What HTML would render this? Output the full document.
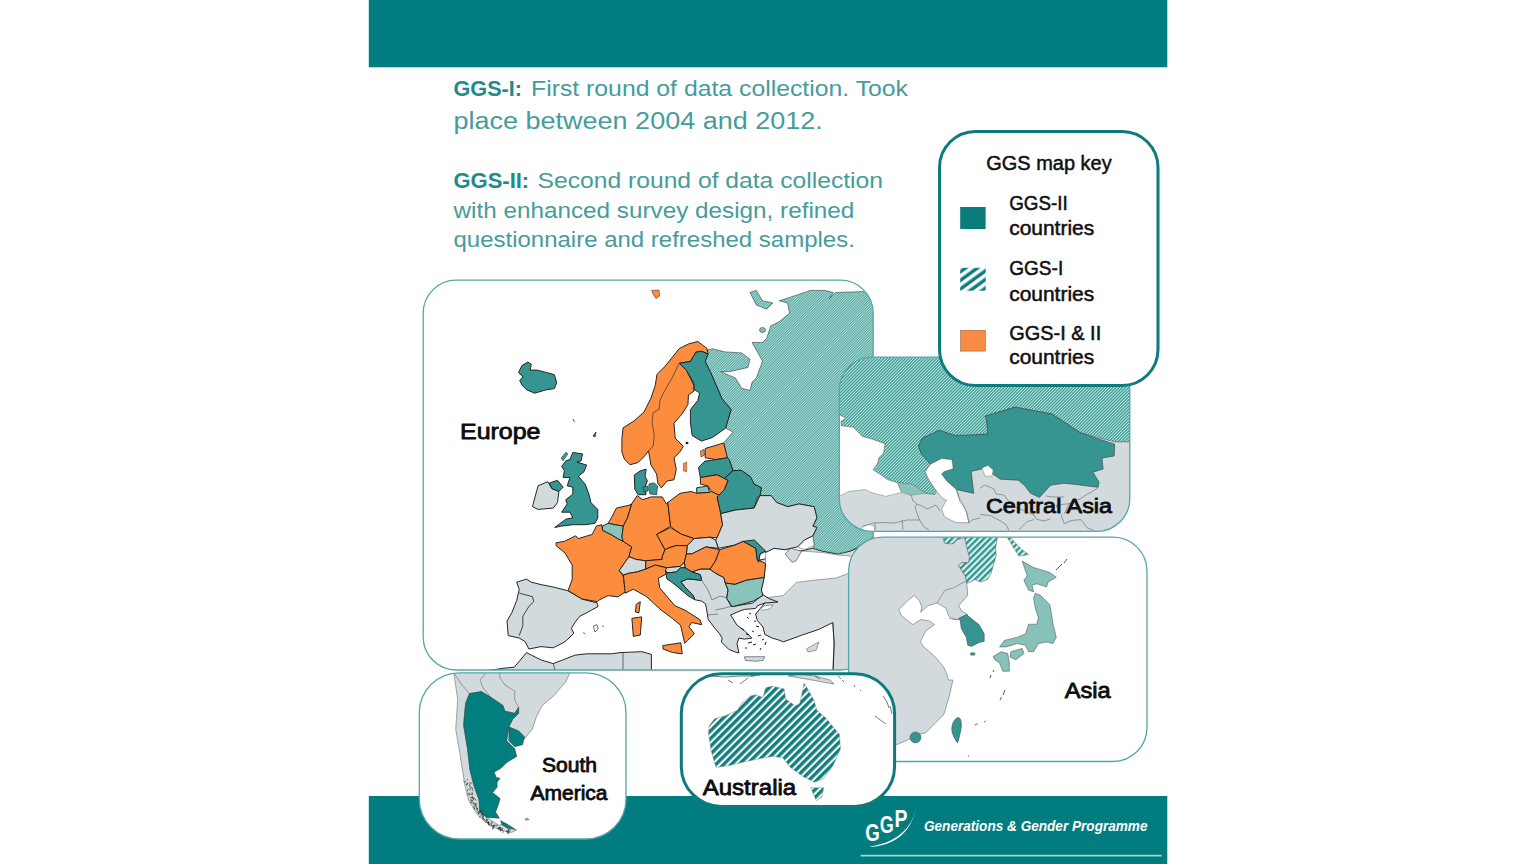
<!DOCTYPE html>
<html><head><meta charset="utf-8"><title>GGS map</title>
<style>html,body{margin:0;padding:0;background:#fff;overflow:hidden} svg{display:block}</style>
</head><body>
<svg width="1536" height="864" viewBox="0 0 1536 864">

<defs>
  <pattern id="hatchCA" patternUnits="userSpaceOnUse" width="2.2" height="2.2" patternTransform="rotate(45)">
    <rect width="2.2" height="2.2" fill="#d2ece8"/><rect width="1.25" height="2.2" fill="#2f9890"/>
  </pattern>
  <pattern id="hatchEU" patternUnits="userSpaceOnUse" width="1.8" height="1.8" patternTransform="rotate(45)">
    <rect width="1.8" height="1.8" fill="#b4dcd7"/><rect width="0.9" height="1.8" fill="#4ea59f"/>
  </pattern>
  <pattern id="hatchAS" patternUnits="userSpaceOnUse" width="4.5" height="4.5" patternTransform="rotate(45)">
    <rect width="4.5" height="4.5" fill="#d9efeb"/><rect width="2.25" height="4.5" fill="#2a9590"/>
  </pattern>
  <pattern id="hatchAU" patternUnits="userSpaceOnUse" width="5.5" height="5.5" patternTransform="rotate(45)">
    <rect width="5.5" height="5.5" fill="#ffffff"/><rect width="3.4" height="5.5" fill="#117f80"/>
  </pattern>
  <pattern id="hatchLG" patternUnits="userSpaceOnUse" width="7" height="7" patternTransform="translate(960,268) rotate(54)">
    <rect width="7" height="7" fill="#ffffff"/><rect x="1.5" width="3.4" height="7" fill="#0a7b7c"/>
  </pattern>
  <clipPath id="clip_eu"><path d="M456.2,280.2 H840.2 A33,33 0 0 1 873.2,313.2 V637.0 A33,33 0 0 1 840.2,670.0 H456.2 A33,33 0 0 1 423.2,637.0 V313.2 A33,33 0 0 1 456.2,280.2 Z"/></clipPath>
  <clipPath id="clip_ca"><path d="M872.3,357.2 H1096.8 A33,33 0 0 1 1129.8,390.2 V498.4 A33,33 0 0 1 1096.8,531.4 H872.3 A33,33 0 0 1 839.3,498.4 V390.2 A33,33 0 0 1 872.3,357.2 Z"/></clipPath>
  <clipPath id="clip_as"><path d="M882.6,537.2 H1113.0 A34,34 0 0 1 1147.0,571.2 V727.5 A34,34 0 0 1 1113.0,761.5 H882.6 A34,34 0 0 1 848.6,727.5 V571.2 A34,34 0 0 1 882.6,537.2 Z"/></clipPath>
  <clipPath id="clip_lg"><path d="M975.5,131.5 H1122.0 A36,36 0 0 1 1158.0,167.5 V349.5 A36,36 0 0 1 1122.0,385.5 H975.5 A36,36 0 0 1 939.5,349.5 V167.5 A36,36 0 0 1 975.5,131.5 Z"/></clipPath>
  <clipPath id="clip_sa"><path d="M459.3,672.8 H586.0 A40,40 0 0 1 626.0,712.8 V799.0 A40,40 0 0 1 586.0,839.0 H459.3 A40,40 0 0 1 419.3,799.0 V712.8 A40,40 0 0 1 459.3,672.8 Z"/></clipPath>
  <clipPath id="clip_au"><path d="M721.3,673.8 H854.5999999999999 A40,40 0 0 1 894.5999999999999,713.8 V766.4 A40,40 0 0 1 854.5999999999999,806.4 H721.3 A40,40 0 0 1 681.3,766.4 V713.8 A40,40 0 0 1 721.3,673.8 Z"/></clipPath>
</defs>
<rect width="1536" height="864" fill="#fff"/>
<rect x="368.8" y="0" width="798.5" height="67.3" fill="#017d7f"/>
<rect x="368.8" y="796" width="798.5" height="68" fill="#017d7f"/>
<text x="453.5" y="96" font-family="Liberation Sans" font-size="21.5" font-weight="bold" font-style="normal" fill="#218b8b" textLength="68.5" lengthAdjust="spacingAndGlyphs" >GGS-I:</text>
<text x="531" y="96" font-family="Liberation Sans" font-size="21.5" font-weight="normal" font-style="normal" fill="#469c9c" textLength="377" lengthAdjust="spacingAndGlyphs" >First round of data collection. Took</text>
<text x="453.5" y="128.8" font-family="Liberation Sans" font-size="23" font-weight="normal" font-style="normal" fill="#469c9c" textLength="369.3" lengthAdjust="spacingAndGlyphs" >place between 2004 and 2012.</text>
<text x="453.5" y="188" font-family="Liberation Sans" font-size="21.5" font-weight="bold" font-style="normal" fill="#218b8b" textLength="75.7" lengthAdjust="spacingAndGlyphs" >GGS-II:</text>
<text x="537.5" y="188" font-family="Liberation Sans" font-size="21.5" font-weight="normal" font-style="normal" fill="#469c9c" textLength="345.5" lengthAdjust="spacingAndGlyphs" >Second round of data collection</text>
<text x="453.5" y="218" font-family="Liberation Sans" font-size="21.5" font-weight="normal" font-style="normal" fill="#469c9c" textLength="400.8" lengthAdjust="spacingAndGlyphs" >with enhanced survey design, refined</text>
<text x="453.5" y="247.3" font-family="Liberation Sans" font-size="21.5" font-weight="normal" font-style="normal" fill="#469c9c" textLength="401.3" lengthAdjust="spacingAndGlyphs" >questionnaire and refreshed samples.</text>
<path d="M456.2,280.2 H840.2 A33,33 0 0 1 873.2,313.2 V637.0 A33,33 0 0 1 840.2,670.0 H456.2 A33,33 0 0 1 423.2,637.0 V313.2 A33,33 0 0 1 456.2,280.2 Z" fill="#fff"/>
<g clip-path="url(#clip_eu)">
<path d="M760.0,560.0 L812.8,548.3 L822.5,551.1 L837.8,553.9 L850.3,551.1 L900.0,530.0 L900.0,680.0 L832.8,680.0 L834.2,643.3 L832.8,622.5 L818.9,629.4 L802.2,635.0 L783.3,641.9 L778.7,640.0 L772.2,638.1 L764.8,634.4 L763.0,627.0 L757.4,620.6 L755.6,614.1 L760.2,608.5 L764.8,603.0 L768.3,598.3 L762.8,595.6 Z" fill="#d2dadd" stroke="#1c1c1c" stroke-width="0.95" stroke-linejoin="round" />
<path d="M480.0,672.0 L502.2,668.4 L514.3,667.2 L526.5,652.6 L531.3,655.1 L541.0,659.9 L553.2,663.6 L562.9,659.9 L575.1,655.1 L587.2,653.8 L611.5,653.8 L620.0,652.6 L641.7,651.7 L651.4,654.4 L651.4,672.0 Z" fill="#d2dadd" stroke="#1c1c1c" stroke-width="0.95" stroke-linejoin="round" />
<path d="M553.2,663.6 L555.6,672 M623,652.8 L623,672" fill="none" stroke="#333" stroke-width="0.7"/>
<path d="M704.2,350.8 L712.5,348.8 L725.0,351.9 L741.7,352.9 L750.0,359.2 L747.9,367.5 L729.2,371.7 L720.8,371.7 L735.4,377.9 L741.7,388.3 L750.0,390.4 L752.1,382.1 L756.3,377.9 L762.5,361.3 L752.1,342.5 L762.5,342.5 L766.7,338.3 L770.8,325.8 L779.2,321.7 L789.6,313.3 L787.5,302.9 L779.2,300.8 L791.7,296.7 L810.4,290.4 L825.0,290.4 L833.3,292.5 L829.2,298.8 L835.4,292.5 L900.0,290.4 L900.0,520.0 L871.1,538.6 L850.3,551.1 L837.8,553.9 L822.5,551.1 L812.8,548.3 L814.2,545.6 L812.8,535.8 L816.9,527.5 L812.8,526.1 L816.9,517.8 L814.2,506.7 L798.9,503.9 L787.8,506.7 L776.7,502.5 L771.1,495.6 L760.0,495.6 L761.5,487.8 L754.1,484.1 L750.4,476.7 L741.1,470.2 L733.0,470.7 L729.3,459.6 L727.4,457.8 L723.7,443.0 L733.0,432.0 L725.6,428.1 L731.1,409.6 L721.9,398.5 L716.3,385.6 L710.7,372.6 L705.2,361.5 L708.0,354.0 Z" fill="url(#hatchEU)" stroke="#1c1c1c" stroke-width="0.5" stroke-linejoin="round" />
<path d="M750.0,292.5 L756.3,290.4 L762.5,300.8 L772.9,302.9 L766.7,309.2 L756.3,305.0 Z" fill="url(#hatchEU)" stroke="#1c1c1c" stroke-width="0.5" stroke-linejoin="round" />
<ellipse cx="762.5" cy="330" rx="3" ry="2.5" fill="#82c1bb" stroke="#222" stroke-width="0.5"/>
<path d="M765.6,552.5 L773.9,548.3 L785.0,549.7 L801.7,551.1 L822.5,552.5 L837.8,555.0 L850.0,556.0 L860.0,558.0 L860.0,572.0 L847.5,573.6 L836.0,578.0 L814.0,580.2 L796.4,582.4 L783.2,595.6 L765.6,597.8 L762.8,595.6 L761.4,590.0 L764.2,577.5 L765.6,563.6 Z" fill="#fff" stroke="#555" stroke-width="0.5" stroke-linejoin="round" />
<path d="M785.0,553.9 L790.6,548.3 L801.7,551.1 L796.1,560.8 L792.0,562.2 Z" fill="#d2dadd" stroke="#1c1c1c" stroke-width="0.5" stroke-linejoin="round" />
<path d="M797.5,546.9 L804.4,540.0 L812.8,535.8 L814.2,545.6 L804.4,549.7 Z" fill="#fff" stroke="#444" stroke-width="0.5" stroke-linejoin="round" />
<path d="M760.2,608.5 L764.8,605.7 L773.1,604.8 L770.4,608.5 L763.0,610.4 Z" fill="#fff" stroke="#444" stroke-width="0.5" stroke-linejoin="round" />
<path d="M806.4,648.9 L818.9,641.9 L816.1,650.3 L808.0,652.0 Z" fill="#d2dadd" stroke="#1c1c1c" stroke-width="0.4" stroke-linejoin="round" />
<path d="M744.4,656.7 L764.8,656.7 L763.0,660.4 L755.6,661.3 L745.4,660.4 Z" fill="#d2dadd" stroke="#1c1c1c" stroke-width="0.5" stroke-linejoin="round" />
<path d="M832.8,622.5 L834,643 L832.8,670" fill="none" stroke="#222" stroke-width="0.5"/>
<path d="M518.5,372.4 L522.0,365.5 L527.8,362.0 L531.3,364.3 L530.1,370.1 L537.0,370.1 L546.3,372.4 L554.4,374.7 L556.7,382.8 L554.4,388.6 L546.3,389.8 L534.7,393.2 L526.6,389.8 L522.0,385.1 L519.7,380.5 L523.1,377.0 Z" fill="#379591" stroke="#1c1c1c" stroke-width="0.95" stroke-linejoin="round" />
<path d="M573,419 l1.5,3 M593,436 l3,-4 l-1,5 Z" fill="#379591" stroke="#222" stroke-width="0.8"/>
<path d="M651.6,290.4 L659.0,290.0 L659.7,296.0 L656.0,298.5 L653.0,294.0 Z" fill="#fd8d3e" stroke="#1c1c1c" stroke-width="0.5" stroke-linejoin="round" />
<path d="M533.9,501.1 L538.1,485.8 L547.8,481.7 L551.9,488.6 L558.9,491.4 L557.5,502.5 L553.3,508.1 L538.1,509.4 L532.5,506.7 Z" fill="#d2dadd" stroke="#1c1c1c" stroke-width="0.95" stroke-linejoin="round" />
<path d="M549.2,483.1 L557.5,480.3 L563.1,487.2 L558.9,491.4 L551.9,488.6 Z" fill="#379591" stroke="#1c1c1c" stroke-width="0.95" stroke-linejoin="round" />
<path d="M572.8,452.5 L582.5,453.9 L581.1,460.8 L576.9,462.2 L586.7,465.0 L583.9,471.9 L578.3,476.1 L585.3,484.4 L589.4,495.6 L590.8,502.5 L597.8,509.4 L597.8,517.8 L595.0,523.3 L585.3,524.7 L572.8,524.7 L561.7,526.1 L554.7,527.5 L565.8,519.2 L572.8,517.8 L570.0,512.2 L561.7,512.2 L567.2,503.9 L565.8,499.7 L572.8,494.2 L572.8,487.2 L567.2,485.8 L570.0,477.5 L563.1,477.5 L564.4,470.6 L561.7,466.4 L565.8,460.8 L570.0,459.4 Z" fill="#379591" stroke="#1c1c1c" stroke-width="0.95" stroke-linejoin="round" />
<path d="M561.0,458.0 L566.0,452.0 L568.0,454.0 L563.0,461.0 Z" fill="#379591" stroke="#1c1c1c" stroke-width="0.4" stroke-linejoin="round" />
<path d="M516.7,582.2 L526.5,579.1 L531.3,582.2 L541.0,584.6 L553.2,587.0 L567.8,590.7 L582.3,599.2 L596.9,602.8 L598.1,606.5 L587.2,612.5 L579.9,616.2 L575.1,622.2 L571.4,628.3 L573.8,633.2 L566.5,640.5 L562.9,642.9 L553.2,647.8 L541.0,646.6 L528.9,649.0 L525.2,641.7 L519.2,638.0 L508.2,635.6 L507.0,621.0 L511.9,612.5 L516.7,600.4 L519.2,589.4 Z" fill="#d2dadd" stroke="#1c1c1c" stroke-width="0.95" stroke-linejoin="round" />
<path d="M519.2,593.1 L532.5,596.7 L533.7,601.6 L528.9,606.5 L522.8,616.2 L522.8,625.9 L519.2,635.6" fill="none" stroke="#1c1c1c" stroke-width="0.8"/>
<path d="M593.3,626 L597,624.7 L598.1,629 L595,632 Z M583,632.5 l2.5,1.5 M602,625.5 l2,1.5" fill="none" stroke="#333" stroke-width="0.7"/>
<path d="M556.1,542.8 L564.4,541.4 L575.6,535.8 L578.3,538.6 L592.2,534.4 L596.4,526.1 L601.9,524.7 L602.5,530.3 L610.8,534.4 L617.8,538.6 L623.3,541.4 L631.7,546.9 L628.9,556.7 L626.1,560.8 L619.2,570.6 L623.3,576.1 L624.7,587.2 L626.1,591.4 L617.8,596.9 L608.1,595.6 L599.7,599.7 L597.2,601.7 L581.9,598.9 L568.1,590.6 L572.2,579.4 L572.2,565.0 L565.0,553.0 L556.1,545.6 Z" fill="#fd8d3e" stroke="#1c1c1c" stroke-width="0.95" stroke-linejoin="round" />
<path d="M616.4,508.1 L628.9,505.3 L631.7,503.9 L627.5,517.8 L623.3,526.1 L615.0,524.7 L608.1,523.3 L612.2,516.4 Z" fill="#fd8d3e" stroke="#1c1c1c" stroke-width="0.95" stroke-linejoin="round" />
<path d="M602.5,526.1 L608.1,523.3 L615.0,524.7 L623.3,526.1 L621.9,537.2 L623.3,541.4 L617.8,538.6 L610.8,534.4 L602.5,530.3 Z" fill="#88c3bc" stroke="#1c1c1c" stroke-width="0.95" stroke-linejoin="round" />
<path d="M637.2,495.6 L642.8,499.7 L651.1,496.9 L662.2,496.9 L666.4,503.9 L667.8,502.5 L670.6,526.1 L656.7,534.4 L665.0,549.7 L662.2,556.7 L662.2,559.4 L645.6,560.8 L635.8,559.4 L628.9,556.7 L631.7,546.9 L623.3,541.4 L621.9,537.2 L623.3,526.1 L627.5,517.8 L631.7,503.9 Z" fill="#fd8d3e" stroke="#1c1c1c" stroke-width="0.95" stroke-linejoin="round" />
<path d="M634.3,475.0 L640.0,471.0 L646.2,469.1 L645.0,476.0 L647.4,481.0 L645.0,487.0 L646.0,494.7 L638.1,494.7 L634.8,489.0 Z" fill="#379591" stroke="#1c1c1c" stroke-width="0.95" stroke-linejoin="round" />
<path d="M643.0,487.0 L647.5,486.0 L648.0,491.0 L644.0,492.0 Z" fill="#379591" stroke="#1c1c1c" stroke-width="0.6" stroke-linejoin="round" />
<path d="M649.0,484.0 L654.0,482.7 L657.6,486.0 L656.6,494.7 L650.0,494.0 L648.6,489.0 Z" fill="#379591" stroke="#1c1c1c" stroke-width="0.6" stroke-linejoin="round" />
<path d="M707.0,348.5 L697.8,341.5 L688.5,343.9 L679.3,348.5 L671.9,357.8 L664.4,367.0 L657.0,374.4 L655.2,385.6 L651.0,398.0 L644.0,412.0 L634.0,421.0 L623.1,427.8 L621.9,438.2 L621.9,452.1 L624.3,459.0 L630.0,464.8 L638.1,462.5 L645.1,455.5 L648.5,450.9 L649.7,457.8 L650.9,464.8 L656.6,474.0 L657.8,483.3 L661.3,487.9 L667.1,481.0 L674.0,479.8 L676.3,469.4 L674.0,457.8 L679.8,452.1 L683.3,446.3 L675.2,438.2 L674.0,423.1 L682.1,413.9 L687.9,404.6 L688.5,394.8 L694.0,391.1 L694.0,385.6 L686.7,370.7 L679.3,363.3 L690.4,361.5 L695.9,352.2 L701.5,351.3 L708.0,354.0 Z" fill="#fd8d3e" stroke="#1c1c1c" stroke-width="0.95" stroke-linejoin="round" />
<path d="M679.3,363.3 L672,378 L664,392 L660.1,400 L659,409.3 L653.2,412.7 L652,423.1 L654.3,434.7 L653.2,446.3 L648.5,450.9" fill="none" stroke="#1c1c1c" stroke-width="0.6"/>
<path d="M683.3,463.6 L686.7,462.0 L686.7,471.7 L683.5,471.0 Z" fill="#fd8d3e" stroke="#1c1c1c" stroke-width="0.4" stroke-linejoin="round" />
<ellipse cx="687" cy="443" rx="1.5" ry="1.3" fill="#222"/>
<path d="M679.3,363.3 L690.4,361.5 L695.9,352.2 L701.5,351.3 L708.0,354.0 L705.2,361.5 L710.7,372.6 L716.3,385.6 L721.9,398.5 L731.1,409.6 L725.6,428.1 L712.6,437.4 L701.5,441.1 L692.2,435.6 L690.4,422.6 L690.4,409.6 L697.8,400.4 L699.6,393.0 L694.0,389.3 L694.0,383.7 L686.7,370.7 Z" fill="#379591" stroke="#1c1c1c" stroke-width="0.95" stroke-linejoin="round" />
<path d="M705.2,448.5 L723.7,443.0 L727.4,457.8 L716.3,459.6 L705.2,457.8 Z" fill="#fd8d3e" stroke="#1c1c1c" stroke-width="0.95" stroke-linejoin="round" />
<path d="M700.5,451.0 L704.0,449.5 L704.5,455.0 L701.0,457.0 Z" fill="#fd8d3e" stroke="#1c1c1c" stroke-width="0.6" stroke-linejoin="round" />
<path d="M698.5,467.4 L705.0,461.0 L716.3,459.6 L727.4,457.8 L729.3,459.6 L733.0,470.7 L724.4,478.5 L717.0,474.8 L700.4,477.6 Z" fill="#379591" stroke="#1c1c1c" stroke-width="0.95" stroke-linejoin="round" />
<path d="M700.4,477.6 L717.0,474.8 L724.4,478.5 L728.1,480.4 L724.4,489.6 L718.9,495.2 L711.5,491.5 L707.8,485.9 L700.4,484.1 Z" fill="#fd8d3e" stroke="#1c1c1c" stroke-width="0.95" stroke-linejoin="round" />
<path d="M696.7,487.8 L707.8,485.9 L709.6,492.4 L696.7,493.3 Z" fill="#88c3bc" stroke="#1c1c1c" stroke-width="0.95" stroke-linejoin="round" />
<path d="M733.0,470.7 L741.1,470.2 L750.4,476.7 L754.1,484.1 L761.5,487.8 L760.0,495.6 L757.8,497.0 L754.1,508.1 L735.6,510.0 L720.7,513.7 L717.0,497.0 L718.9,495.2 L724.4,489.6 L728.1,480.4 L724.4,478.5 Z" fill="#379591" stroke="#1c1c1c" stroke-width="0.95" stroke-linejoin="round" />
<path d="M667.8,502.5 L680.0,493.3 L691.1,491.5 L696.7,493.3 L709.6,492.4 L711.5,491.5 L718.9,495.2 L717.0,497.0 L720.7,513.7 L722.6,524.8 L717.0,537.8 L710.0,537.2 L694.2,538.6 L681.7,534.4 L673.3,528.9 L670.6,526.1 Z" fill="#fd8d3e" stroke="#1c1c1c" stroke-width="0.95" stroke-linejoin="round" />
<path d="M720.7,513.7 L735.6,510.0 L754.1,508.1 L760.0,495.6 L771.1,495.6 L776.7,502.5 L787.8,506.7 L798.9,503.9 L814.2,506.7 L816.9,517.8 L812.8,526.1 L816.9,527.5 L812.8,535.8 L804.4,540.0 L797.5,546.9 L790.6,548.3 L785.0,549.7 L773.9,548.3 L765.6,552.5 L765.6,551.1 L760.0,553.9 L758.6,562.2 L757.2,559.4 L755.8,548.3 L743.3,541.4 L735.0,545.0 L718.3,548.3 L715.6,540.0 L717.0,537.8 L722.6,524.8 Z" fill="#d2dadd" stroke="#1c1c1c" stroke-width="0.95" stroke-linejoin="round" />
<path d="M656.7,534.4 L670.6,527.5 L681.7,534.4 L694.2,538.6 L687.2,545.6 L676.1,545.6 L667.8,548.3 L665.0,549.7 Z" fill="#fd8d3e" stroke="#1c1c1c" stroke-width="0.95" stroke-linejoin="round" />
<path d="M694.2,538.6 L710.0,537.2 L715.6,540.0 L718.3,548.3 L705.8,546.9 L691.9,553.9 L686.4,553.9 L687.2,545.6 Z" fill="#d2dadd" stroke="#1c1c1c" stroke-width="0.95" stroke-linejoin="round" />
<path d="M662.2,556.7 L665.0,549.7 L667.8,548.3 L676.1,545.6 L687.2,545.6 L686.4,553.9 L684.4,562.2 L680.3,566.4 L666.4,567.8 L655.3,565.0 L645.6,569.2 L645.6,560.8 L662.2,559.4 Z" fill="#fd8d3e" stroke="#1c1c1c" stroke-width="0.95" stroke-linejoin="round" />
<path d="M619.2,570.6 L626.1,560.8 L628.9,556.7 L635.8,559.4 L645.6,560.8 L645.6,569.2 L637.2,571.9 L628.9,573.3 L623.3,575.0 Z" fill="#d2dadd" stroke="#1c1c1c" stroke-width="0.95" stroke-linejoin="round" />
<path d="M623.3,575.0 L628.9,573.3 L637.2,571.9 L645.6,569.2 L655.3,565.0 L666.4,567.8 L666.7,573.9 L658.3,578.1 L659.7,587.8 L666.7,596.1 L675.0,605.8 L684.7,610.0 L700.0,619.7 L701.7,624.7 L691.7,622.5 L688.9,626.7 L694.4,633.6 L687.5,640.6 L684.7,643.3 L680.6,625.3 L672.2,618.3 L661.1,610.0 L645.8,596.1 L633.3,589.2 L625.0,593.3 L624.7,587.2 Z" fill="#fd8d3e" stroke="#1c1c1c" stroke-width="0.95" stroke-linejoin="round" />
<path d="M662.8,645.6 L680.8,642.8 L682.2,653.9 L672.5,652.5 L663.0,649.0 Z" fill="#fd8d3e" stroke="#1c1c1c" stroke-width="0.95" stroke-linejoin="round" />
<path d="M631.9,618.3 L641.7,616.9 L640.3,635.0 L633.3,636.4 Z" fill="#fd8d3e" stroke="#1c1c1c" stroke-width="0.95" stroke-linejoin="round" />
<path d="M636.1,604.4 L640.3,601.7 L638.9,612.8 L635.5,612.0 Z" fill="#fd8d3e" stroke="#1c1c1c" stroke-width="0.95" stroke-linejoin="round" />
<path d="M684.4,562.2 L686.4,553.9 L691.9,553.9 L705.8,546.9 L719.7,549.7 L715.6,560.8 L710.0,569.2 L700.3,569.2 L691.9,571.9 L685.0,567.8 Z" fill="#fd8d3e" stroke="#1c1c1c" stroke-width="0.95" stroke-linejoin="round" />
<path d="M665.6,570.6 L666.4,567.8 L680.3,566.4 L684.4,562.2 L685.0,567.8 L680.8,567.8 L676.0,572.0 L667.0,573.0 Z" fill="#d2dadd" stroke="#1c1c1c" stroke-width="0.95" stroke-linejoin="round" />
<path d="M691.9,571.9 L700.3,569.2 L710.0,569.2 L715.6,573.3 L723.9,577.5 L725.3,583.0 L728.1,590.0 L726.7,598.3 L731.5,606.7 L752.8,603.0 L763.0,594.6 L768.3,598.3 L778.0,602.0 L764.8,603.0 L757.4,605.7 L755.6,608.5 L744.4,609.4 L737.0,612.2 L730.6,615.0 L732.4,617.8 L737.0,625.2 L744.4,630.7 L751.9,638.1 L744.4,639.1 L738.9,638.1 L737.0,643.7 L738.9,653.0 L735.2,652.0 L728.7,649.3 L721.3,641.9 L722.2,638.1 L719.4,633.5 L713.9,627.0 L708.3,619.6 L705.6,603.9 L701.7,601.1 L694.7,599.7 L693.3,595.6 L685.0,587.2 L680.8,581.7 L687.8,578.9 L701.7,580.3 L700.3,574.7 Z" fill="#d2dadd" stroke="#1c1c1c" stroke-width="0.95" stroke-linejoin="round" />
<path d="M701.7,580.3 L708,590 L712,600 M712,600 L720,596 L728,598 M715,610 L725,608 L732,606 M707,615 L718,614" fill="none" stroke="#333" stroke-width="0.5"/>
<path d="M749,613 l2,1 M747,617 l1.5,1.5 M754,621 l2,0.5 M756,626 l3,1 M752,631 l2,1 M758,636 l3,-1 M748,643 l4,-1 M753,645 l3,-1 M745,648 l2,0 M762,640 l2,-1 M765,645 l1,-3 M760,650 l1,-2 M741,628 l3,2 M746,634 l3,1" stroke="#222" stroke-width="1"/>
<path d="M665.6,570.6 L667.0,573.0 L676.0,572.0 L680.8,567.8 L685.0,567.8 L691.9,571.9 L700.3,574.7 L701.7,580.3 L687.8,578.9 L680.8,581.7 L685.0,587.2 L693.3,595.6 L694.7,599.7 L687.8,595.6 L678.1,587.2 L671.1,581.7 L666.9,578.9 Z" fill="#379591" stroke="#1c1c1c" stroke-width="0.95" stroke-linejoin="round" />
<path d="M719.7,549.7 L735.0,545.0 L743.3,541.4 L755.8,548.3 L757.2,559.4 L765.6,563.6 L764.2,577.5 L746.1,580.3 L735.0,584.4 L725.3,583.0 L723.9,577.5 L715.6,573.3 L710.0,569.2 L715.6,560.8 Z" fill="#fd8d3e" stroke="#1c1c1c" stroke-width="0.95" stroke-linejoin="round" />
<path d="M743.3,541.4 L754.4,540.0 L765.6,551.1 L760.0,553.9 L758.6,562.2 L757.2,559.4 L755.8,548.3 Z" fill="#379591" stroke="#1c1c1c" stroke-width="0.95" stroke-linejoin="round" />
<path d="M725.3,583.0 L735.0,584.4 L746.1,580.3 L764.2,577.5 L761.4,590.0 L762.8,595.6 L753.1,601.1 L743.3,603.9 L732.2,606.7 L726.7,598.3 L728.1,590.0 Z" fill="#88c3bc" stroke="#1c1c1c" stroke-width="0.95" stroke-linejoin="round" />
</g>
<path d="M456.2,280.2 H840.2 A33,33 0 0 1 873.2,313.2 V637.0 A33,33 0 0 1 840.2,670.0 H456.2 A33,33 0 0 1 423.2,637.0 V313.2 A33,33 0 0 1 456.2,280.2 Z" fill="none" stroke="#56a6a6" stroke-width="1.3"/>

<path d="M872.3,357.2 H1096.8 A33,33 0 0 1 1129.8,390.2 V498.4 A33,33 0 0 1 1096.8,531.4 H872.3 A33,33 0 0 1 839.3,498.4 V390.2 A33,33 0 0 1 872.3,357.2 Z" fill="#fff"/>
<g clip-path="url(#clip_ca)">
<rect x="830" y="350" width="310" height="190" fill="#d2dadd"/>
<path d="M830.0,350.0 L1140.0,350.0 L1140.0,441.9 L1128.6,441.9 L1114.7,441.9 L1080.0,432.6 L1052.2,414.1 L1015.2,407.1 L985.4,416.0 L986.6,420.0 L987.9,434.1 L963.5,435.4 L954.5,435.4 L939.1,430.3 L931.4,434.1 L922.4,438.0 L918.5,445.7 L921.1,453.4 L930.1,463.7 L925.0,471.4 L928.8,479.8 L936.7,491.5 L934.7,494.4 L925.9,493.4 L913.2,484.6 L897.6,482.7 L887.8,479.8 L872.2,470.0 L872.9,469.7 L877.4,463.6 L878.9,457.6 L883.5,453.0 L885.0,443.9 L872.9,439.4 L862.3,436.4 L853.2,427.3 L841.0,425.8 L841.0,421.2 L845.6,418.2 L840.3,415.2 L830.0,415.0 Z" fill="url(#hatchCA)" stroke="#555" stroke-width="0.5" stroke-linejoin="round" />
<path d="M830.0,415.0 L840.3,415.2 L845.6,418.2 L841.0,421.2 L841.0,425.8 L853.2,427.3 L862.3,436.4 L872.9,439.4 L885.0,443.9 L883.5,453.0 L878.9,457.6 L877.4,463.6 L872.9,469.7 L887.8,479.8 L897.6,482.7 L901.5,492.5 L893.7,494.4 L885.9,496.4 L878.1,494.4 L871.2,492.5 L865.4,489.5 L848.8,491.5 L841.0,495.4 L830.0,496.0 Z" fill="#fff" stroke="#777" stroke-width="0.5" stroke-linejoin="round" />
<path d="M897.6,482.7 L913.2,484.6 L925.9,493.4 L917.1,494.4 L911.3,495.4 L901.5,492.5 Z" fill="#88c3bc" stroke="#777" stroke-width="0.4" stroke-linejoin="round" />
<path d="M918.5,445.7 L922.4,438.0 L931.4,434.1 L939.1,430.3 L954.5,435.4 L963.5,435.4 L987.9,434.1 L986.6,420.0 L985.4,416.0 L1015.2,407.1 L1052.2,414.1 L1080.0,432.6 L1114.7,444.2 L1114.2,456.0 L1102.1,458.0 L1103.1,469.1 L1093.0,472.2 L1099.1,482.2 L1098.1,487.3 L1073.8,484.3 L1063.8,483.3 L1050.6,485.3 L1039.5,497.4 L1030.5,493.3 L1024.4,485.3 L1018.3,480.2 L1000.2,479.2 L990.0,472.0 L982.8,468.8 L971.2,471.4 L973.8,493.4 L956.2,489.5 L946.4,480.7 L941.5,473.9 L944.2,471.4 L953.2,468.8 L952.0,459.8 L941.7,458.5 L931.4,463.7 L930.1,463.7 L921.1,453.4 Z" fill="#379591" stroke="#333" stroke-width="0.55" stroke-linejoin="round" />
<path d="M982.0,468.0 L988.0,465.5 L993.1,470.0 L992.0,476.2 L985.0,476.0 Z" fill="#fff" stroke="#666" stroke-width="0.4" stroke-linejoin="round" />
<path d="M925.0,471.4 L931.4,463.7 L941.7,458.5 L952.0,459.8 L953.2,468.8 L944.2,471.4 L941.5,473.9 L946.4,480.7 L956.2,489.5 L958.1,496.4 L963.0,504.2 L966.0,511.0 L968.9,522.7 L956.2,522.7 L944.5,516.9 L941.5,509.1 L946.4,500.3 L942.5,498.3 L936.7,491.5 L928.8,479.8 Z" fill="#fff" stroke="#666" stroke-width="0.5" stroke-linejoin="round" />
<path d="M862.4,527.0 L868.0,524.5 L874.2,526.0 L875.0,535.0 L860.0,535.0 Z" fill="#fff" stroke="#777" stroke-width="0.4" stroke-linejoin="round" />
<path d="M911.3,495.4 L913,501 L917,504 L924,507 L927,509 L936,505 L940,511 M917,504 L915,507 L919,519 L924,527 L929,530 M862.4,526.6 L873,523 L883,522.5 L894,523 L907,520 L920,520 M902,520 L903,530 M875,523 L875,530 M968.9,522.7 L972,520 L980,518 M956.2,489.5 L958,493 L960,502 L964,507 L967,513 L968.9,522.7 M980,488.3 L985,485 L994,489 L996,494 L1004,495 L1009,502 L1015,507 L1025,511 L1034,515 L1036,519 L1044,521 L1050,519 M1098.1,488 L1086,495 L1080,499 L1071,502 L1068,506 L1064,514 M1046,496 L1053,497 L1064,497 M980,514.5 L990,515.5 L1000,520.6 L1006,524.6 L1009,530.6 M1019,529.7 L1027,521.6 L1034,519.6 M1061,514.5 L1064,523.6 L1071,520.6 L1081,519.6 L1087,527.7 L1094,530.7 M1060,511.5 L1056,505.5 L1061,504.5 L1071,503.5" fill="none" stroke="#666" stroke-width="0.6"/>
</g>
<path d="M872.3,357.2 H1096.8 A33,33 0 0 1 1129.8,390.2 V498.4 A33,33 0 0 1 1096.8,531.4 H872.3 A33,33 0 0 1 839.3,498.4 V390.2 A33,33 0 0 1 872.3,357.2 Z" fill="none" stroke="#56a6a6" stroke-width="1.3"/>

<path d="M882.6,537.2 H1113.0 A34,34 0 0 1 1147.0,571.2 V727.5 A34,34 0 0 1 1113.0,761.5 H882.6 A34,34 0 0 1 848.6,727.5 V571.2 A34,34 0 0 1 882.6,537.2 Z" fill="#fff"/>
<g clip-path="url(#clip_as)">
<rect x="840" y="530" width="320" height="240" fill="#fff"/>
<path d="M840.0,530.0 L970.0,530.0 L970.0,563.0 L961.8,562.4 L958.6,565.6 L965.6,576.4 L966.9,583.4 L967.7,595.5 L958.7,605.6 L961.3,610.7 L967.7,614.6 L960.0,619.6 L953.7,619.6 L948.6,615.8 L946.0,608.2 L937.1,603.1 L928.2,605.6 L920.6,612.0 L921.8,606.9 L919.3,600.6 L914.2,595.5 L909.1,599.3 L898.9,609.5 L901.5,615.8 L912.9,624.7 L920.6,619.6 L929.5,620.9 L934.6,624.7 L925.6,631.1 L920.6,641.3 L923.1,646.4 L930.7,652.8 L937.1,659.1 L943.5,666.8 L946.0,671.8 L948.6,680.0 L952.9,680.0 L949.3,696.4 L943.8,714.6 L934.7,723.7 L925.6,732.9 L916.5,734.7 L907.3,740.2 L896.4,744.7 L840.0,750.0 Z" fill="#d2dadd" stroke="#555" stroke-width="0.5" stroke-linejoin="round" />
<path d="M966.4,582.7 L965,581.5 L953.7,587.8 L944.7,590.4 L938.4,600.6 L937.1,603.1 M948.6,618.4 L958.7,619.6" fill="none" stroke="#555" stroke-width="0.5"/>
<path d="M940.8,530.0 L1000.0,530.0 L997.5,537.5 L995.6,547.7 L996.2,555.4 L991.1,573.2 L987.3,579.6 L980.9,582.1 L974.6,579.6 L970.7,582.1 L966.9,583.4 L965.6,576.4 L958.6,565.6 L961.8,562.4 L968.2,563.0 L969.5,557.9 L966.9,547.7 L964.4,537.5 L957.4,539.5 L952.9,543.9 L944.6,543.3 Z" fill="url(#hatchAS)" stroke="#555" stroke-width="0.5" stroke-linejoin="round" />
<path d="M1010.0,536.0 L1012.5,540.0 L1022.2,549.7 L1028.7,554.6 L1019.0,556.2 L1013.0,547.0 L1007.0,537.0 Z" fill="url(#hatchAS)" stroke="#555" stroke-width="0.4" stroke-linejoin="round" />
<path d="M958.7,618.4 L966.4,614.6 L979.1,624.7 L984.2,633.7 L984.2,641.3 L979.1,642.6 L971.5,646.4 L967.7,645.1 L966.4,637.5 L961.3,628.6 L960.0,619.6 Z" fill="#379591" stroke="#333" stroke-width="0.5" stroke-linejoin="round" />
<ellipse cx="972.7" cy="654" rx="2.6" ry="1.4" fill="#379591" stroke="#333" stroke-width="0.3"/>
<path d="M1022.2,561.1 L1033.6,567.5 L1049.8,572.4 L1056.3,577.2 L1048.2,582.1 L1046.5,587.0 L1036.8,583.7 L1032.0,585.3 L1033.6,591.8 L1028.7,590.2 L1023.9,580.5 L1027.1,575.6 Z" fill="#86c1ba" stroke="#444" stroke-width="0.5" stroke-linejoin="round" />
<path d="M1035.2,593.4 L1040.1,595.1 L1049.8,604.8 L1051.4,612.9 L1053.0,624.2 L1056.3,637.2 L1053.0,643.6 L1046.5,642.0 L1038.4,643.6 L1033.6,651.7 L1028.7,651.7 L1025.5,645.3 L1017.4,643.6 L1006.1,646.9 L999.6,646.9 L1004.4,640.4 L1017.4,637.2 L1025.5,633.9 L1028.7,624.2 L1036.8,624.2 L1038.4,617.7 L1035.2,608.0 L1033.6,598.3 Z" fill="#86c1ba" stroke="#444" stroke-width="0.5" stroke-linejoin="round" />
<path d="M1010.9,651.7 L1022.2,648.5 L1023.9,653.4 L1015.8,659.8 L1010.0,657.0 Z" fill="#86c1ba" stroke="#444" stroke-width="0.5" stroke-linejoin="round" />
<path d="M993.1,656.6 L1001.2,651.7 L1007.7,653.4 L1009.3,663.1 L1009.3,671.2 L1002.8,671.2 L999.6,663.1 L995.0,660.0 Z" fill="#86c1ba" stroke="#444" stroke-width="0.5" stroke-linejoin="round" />
<path d="M958.4,717.4 C961.5,718.5 961.8,724 961,729 C960.3,734 959,738 957.5,742.9 C955,739 952.2,735 951.8,730 C951.5,724 954.5,718 958.4,717.4 Z" fill="#379591" stroke="#333" stroke-width="0.5"/>
<circle cx="915.5" cy="737.4" r="5.5" fill="#379591" stroke="#333" stroke-width="0.4"/>
<path d="M1003,695 l2,-5 M1000,700 l1.5,-3 M975,725 l2.5,-1.2 M984,722 l1.5,-0.8 M968,756 l1,0 M1056,570 l6,-6 M1064,563 l3,-4 M990,678 l1,-3 M993,672 l1,-2" stroke="#444" stroke-width="0.9" fill="none"/>
</g>
<path d="M882.6,537.2 H1113.0 A34,34 0 0 1 1147.0,571.2 V727.5 A34,34 0 0 1 1113.0,761.5 H882.6 A34,34 0 0 1 848.6,727.5 V571.2 A34,34 0 0 1 882.6,537.2 Z" fill="none" stroke="#56a6a6" stroke-width="1.3"/>

<path d="M975.5,131.5 H1122.0 A36,36 0 0 1 1158.0,167.5 V349.5 A36,36 0 0 1 1122.0,385.5 H975.5 A36,36 0 0 1 939.5,349.5 V167.5 A36,36 0 0 1 975.5,131.5 Z" fill="#fff"/>
<g clip-path="url(#clip_lg)">

</g>
<path d="M975.5,131.5 H1122.0 A36,36 0 0 1 1158.0,167.5 V349.5 A36,36 0 0 1 1122.0,385.5 H975.5 A36,36 0 0 1 939.5,349.5 V167.5 A36,36 0 0 1 975.5,131.5 Z" fill="none" stroke="#0b7b7d" stroke-width="3"/>

<text x="986.3" y="170.2" font-family="Liberation Sans" font-size="20" font-weight="normal" font-style="normal" fill="#111" textLength="125.4" lengthAdjust="spacingAndGlyphs" stroke="#111" stroke-width="0.5">GGS map key</text>
<rect x="960.2" y="207" width="25.4" height="22" fill="#0a7b7c"/>
<rect x="960.2" y="267.8" width="25.5" height="22.9" fill="url(#hatchLG)"/>
<rect x="960.6" y="330.3" width="24.8" height="20.8" fill="#f98b43" stroke="#8a6a50" stroke-width="0.6"/>
<text x="1009.2" y="210.2" font-family="Liberation Sans" font-size="19.5" font-weight="normal" font-style="normal" fill="#111" textLength="58.5" lengthAdjust="spacingAndGlyphs" stroke="#111" stroke-width="0.5">GGS-II</text>
<text x="1009.2" y="235.4" font-family="Liberation Sans" font-size="19.5" font-weight="normal" font-style="normal" fill="#111" textLength="85" lengthAdjust="spacingAndGlyphs" stroke="#111" stroke-width="0.5">countries</text>
<text x="1009.2" y="275.4" font-family="Liberation Sans" font-size="19.5" font-weight="normal" font-style="normal" fill="#111" textLength="54" lengthAdjust="spacingAndGlyphs" stroke="#111" stroke-width="0.5">GGS-I</text>
<text x="1009.2" y="301.2" font-family="Liberation Sans" font-size="19.5" font-weight="normal" font-style="normal" fill="#111" textLength="85" lengthAdjust="spacingAndGlyphs" stroke="#111" stroke-width="0.5">countries</text>
<text x="1009.2" y="339.6" font-family="Liberation Sans" font-size="19.5" font-weight="normal" font-style="normal" fill="#111" textLength="92" lengthAdjust="spacingAndGlyphs" stroke="#111" stroke-width="0.5">GGS-I &amp; II</text>
<text x="1009.2" y="364.2" font-family="Liberation Sans" font-size="19.5" font-weight="normal" font-style="normal" fill="#111" textLength="85" lengthAdjust="spacingAndGlyphs" stroke="#111" stroke-width="0.5">countries</text>
<path d="M459.3,672.8 H586.0 A40,40 0 0 1 626.0,712.8 V799.0 A40,40 0 0 1 586.0,839.0 H459.3 A40,40 0 0 1 419.3,799.0 V712.8 A40,40 0 0 1 459.3,672.8 Z" fill="#fff"/>
<g clip-path="url(#clip_sa)">
<path d="M452.0,665.0 L453.8,673.0 L457.7,699.5 L455.7,729.0 L459.7,752.6 L462.5,770.0 L464.8,785.0 L468.5,800.1 L477.6,815.1 L488.9,824.2 L500.1,830.2 L511.4,832.5 L516.7,830.0 L504.9,823.4 L499.0,825.3 L486.6,817.4 L479.8,811.4 L479.1,800.1 L473.8,785.0 L470.0,770.0 L467.5,748.6 L463.6,725.1 L465.6,703.4 L469.5,693.6 L481.3,691.6 L491.1,697.5 L502.9,705.4 L504.9,711.3 L514.7,713.3 L518.6,707.4 L518.6,713.3 L512.7,719.2 L508.8,727.0 L518.6,731.0 L524.5,736.9 L524.5,738.8 L532.4,729.0 L536.3,717.2 L542.2,705.4 L554.0,695.6 L565.8,681.8 L569.8,673.0 L571.0,665.0 Z" fill="#d2dadd" stroke="#555" stroke-width="0.5" stroke-linejoin="round" />
<path d="M454,673 L462,685 L469.5,693.6 M485,665 L485,674 L480,680 L483,688 L491.1,697.5 M499,665 L500,678 L505,685 L514.7,691 L514.7,700 L518.6,707.4" fill="none" stroke="#555" stroke-width="0.5"/>
<path d="M469.5,693.6 L481.3,691.6 L491.1,697.5 L502.9,705.4 L504.9,711.3 L514.7,713.3 L518.6,707.4 L518.6,713.3 L512.7,719.2 L508.8,727.0 L506.9,740.8 L514.7,748.6 L516.7,756.5 L506.9,762.4 L501.0,768.3 L494.1,772.3 L496.4,777.5 L500.1,778.3 L497.1,782.0 L497.1,787.3 L492.6,792.6 L500.1,798.6 L498.6,803.9 L495.6,812.1 L499.4,818.2 L486.6,817.4 L479.8,811.4 L479.1,800.1 L473.8,785.0 L470.0,770.0 L467.5,748.6 L463.6,725.1 L465.6,703.4 Z" fill="#007f7e" stroke="#333" stroke-width="0.5" stroke-linejoin="round" />
<path d="M500.5,820.5 L506.0,823.5 L515.2,829.4 L508.0,828.5 L502.0,825.0 Z" fill="#007f7e" stroke="#333" stroke-width="0.4" stroke-linejoin="round" />
<path d="M508.8,727.0 L518.6,731.0 L524.5,736.9 L522.6,744.7 L514.7,746.7 L508.8,740.8 Z" fill="#007f7e" stroke="#333" stroke-width="0.5" stroke-linejoin="round" />
<path d="M525,819 l3,-0.5 l1,1 l-3,0.8 Z" fill="none" stroke="#444" stroke-width="0.7"/>
<path d="M467.2,779.0 l0.5,0.6 l0.1,-0.4 M466.3,781.0 l-1.7,1.2 l-1.3,-1.2 M468.2,783.0 l-1.4,0.9 l0.4,1.3 M469.1,782.7 l1.7,0.6 l1.1,-0.6 M467.4,782.9 l-0.7,1.9 l-1.0,0.2 M469.9,784.6 l0.2,0.6 l-1.3,-0.9 M470.3,785.8 l-0.7,1.5 l-0.1,-0.6 M471.0,787.6 l-0.9,1.5 l0.1,1.1 M471.0,787.4 l1.7,0.7 l-0.2,0.8 M468.7,789.0 l-1.7,1.6 l0.8,0.2 M472.2,789.4 l0.7,1.5 l0.2,-0.1 M472.3,792.3 l-0.1,1.6 l-1.3,0.6 M471.7,793.5 l1.2,1.0 l-0.3,0.5 M469.3,792.9 l-1.2,0.7 l-1.3,0.8 M470.1,793.2 l-0.4,2.0 l-1.3,-0.2 M472.2,796.2 l1.1,2.0 l-0.7,-0.3 M471.7,797.2 l1.6,0.8 l-1.0,-0.8 M471.4,797.0 l0.3,0.9 l-1.5,-0.2 M472.3,798.2 l1.6,1.7 l0.0,0.4 M474.0,797.7 l1.4,1.8 l1.1,0.9 M473.0,799.7 l-1.4,1.6 l-1.3,-1.3 M472.6,799.8 l-0.6,0.6 l-1.5,-1.0 M472.4,801.2 l-1.7,2.0 l0.3,-1.1 M473.5,801.9 l-0.5,0.7 l1.0,1.5 M474.8,803.2 l-1.5,0.7 l-0.5,-0.7 M476.7,803.0 l-1.7,2.1 l0.1,-1.1 M475.8,803.4 l0.1,2.2 l1.1,0.6 M474.9,805.2 l-1.2,1.8 l0.1,0.8 M475.6,805.6 l1.1,2.2 l1.1,0.9 M478.1,807.9 l-1.0,1.4 l-0.4,-1.4 M474.9,807.3 l-0.9,1.7 l1.4,-0.2 M479.4,810.2 l1.6,1.1 l-0.8,-0.8 M476.7,808.6 l0.4,2.0 l1.0,-0.1 M479.2,811.1 l-1.5,1.6 l1.2,0.8 M480.1,810.9 l-1.2,1.8 l-0.5,0.9 M481.6,811.4 l-0.4,2.1 l0.7,-1.0 M478.4,811.5 l1.5,1.9 l-1.1,1.0 M482.6,813.7 l-0.5,1.4 l-1.1,-1.5 M483.1,814.4 l0.1,2.1 l-0.2,1.1 M482.9,813.9 l-0.9,1.0 l-0.8,0.3 M480.9,815.3 l-1.3,2.0 l-0.4,-0.1 M483.1,817.3 l-0.3,2.1 l0.0,0.1 M483.5,815.3 l-0.2,0.8 l-1.5,0.9 M482.7,817.2 l0.8,1.4 l-0.5,0.1 M485.0,818.8 l-1.4,1.5 l-0.8,-0.7 M486.7,818.5 l0.2,1.8 l1.2,-0.2 M486.7,819.1 l0.0,1.7 l-0.1,0.1 M486.8,821.0 l0.7,2.0 l1.3,-0.7 M487.9,821.6 l1.2,0.7 l-1.1,-0.2 M486.4,820.1 l-1.5,1.6 l0.9,1.2 M487.5,822.1 l0.6,0.7 l1.1,1.4 M488.5,823.3 l-0.4,1.3 l1.5,1.0 M488.9,822.2 l0.1,1.1 l-0.9,-0.5 M492.1,821.4 l0.2,1.2 l-1.4,-0.5 M492.3,823.3 l-1.6,2.2 l0.9,1.4 M490.8,823.0 l-1.7,1.8 l-0.7,-1.1 M492.9,825.4 l1.1,0.9 l-1.1,1.3 M494.2,825.3 l-1.5,0.6 l0.6,-0.2 M492.7,826.4 l0.5,1.9 l-1.2,1.1 M493.4,826.6 l-0.2,1.1 l0.2,1.3 M495.0,824.9 l0.1,0.9 l-1.2,-1.0 M494.8,825.4 l-0.7,1.0 l0.8,-0.6 M497.5,825.6 l-0.6,0.5 l-0.7,-1.5 M499.3,827.1 l-1.1,1.3 l1.3,-1.2 M500.4,827.0 l-0.0,1.9 l-0.3,0.0 M500.6,828.9 l-0.6,1.9 l0.6,0.4 M500.1,827.3 l-1.6,0.7 l-1.3,0.7 M500.2,827.1 l-1.5,1.9 l1.1,0.5 M501.0,827.6 l-0.7,1.3 l-1.0,-0.2 M501.7,830.1 l1.7,1.4 l-0.8,1.4 M502.7,828.6 l-1.8,1.1 l-0.1,0.0 M502.8,829.2 l-1.8,0.9 l-1.2,-0.3 M502.8,828.0 l-0.7,0.9 l0.3,0.1 M506.6,830.1 l0.8,2.0 l-0.3,-0.5 M508.2,828.7 l0.8,1.6 l-1.4,1.0 M508.5,830.4 l0.8,1.9 l-1.1,0.1 M507.4,831.2 l1.1,1.9 l0.3,1.2 M508.9,831.0 l-1.0,0.6 l-1.1,-0.4 M507.0,831.6 l0.2,1.6 l0.4,0.5 M509.3,829.3 l1.1,1.8 l0.0,0.1" fill="none" stroke="#222" stroke-width="0.8" opacity="0.8"/>
</g>
<path d="M459.3,672.8 H586.0 A40,40 0 0 1 626.0,712.8 V799.0 A40,40 0 0 1 586.0,839.0 H459.3 A40,40 0 0 1 419.3,799.0 V712.8 A40,40 0 0 1 459.3,672.8 Z" fill="none" stroke="#56a6a6" stroke-width="1.3"/>

<path d="M721.3,673.8 H854.5999999999999 A40,40 0 0 1 894.5999999999999,713.8 V766.4 A40,40 0 0 1 854.5999999999999,806.4 H721.3 A40,40 0 0 1 681.3,766.4 V713.8 A40,40 0 0 1 721.3,673.8 Z" fill="#fff"/>
<g clip-path="url(#clip_au)">
<path d="M788.4,676.0 L800.0,674.0 L815.0,676.0 L830.0,680.0 L834.0,684.0 L825.0,682.5 L812.0,680.0 L800.0,678.0 Z" fill="#d2dadd" stroke="#444" stroke-width="0.5" stroke-linejoin="round" />
<path d="M710,676 L725,677 L740,676 L755,676 M728,680 L733,683 M740,684 L748,678 M750,676 L760,675 M815,676 l5,3 M838,676 l3,3 M842,680 l2,2 M854,685 l1,2 M860,690 l1,1 M883,696 l4,6 l2,6 M890,706 l2,8 M875,716 l8,6 l3,2" fill="none" stroke="#444" stroke-width="0.7"/>
<path d="M709.0,726.0 L714.6,718.8 L724.6,716.0 L737.4,710.3 L741.6,703.2 L750.1,696.1 L755.8,694.7 L762.9,697.5 L765.7,687.6 L772.8,686.2 L784.2,689.0 L785.6,699.0 L795.5,706.1 L799.8,703.2 L804.1,683.4 L806.9,687.6 L814.0,700.4 L816.8,710.3 L825.3,717.4 L832.4,725.9 L839.5,734.4 L840.4,748.9 L833.0,765.6 L823.7,778.5 L814.4,782.2 L803.3,776.7 L790.4,767.4 L783.0,758.1 L773.7,756.3 L762.6,758.1 L744.1,761.9 L729.3,765.6 L716.3,767.4 L714.8,763.8 L711.0,750.0 L708.5,733.5 Z" fill="url(#hatchAU)" stroke="#888" stroke-width="0.5" stroke-linejoin="round" />
<path d="M810.7,787.8 L823.7,787.8 L821.9,797.0 L816.3,800.7 Z" fill="url(#hatchAU)" stroke="#888" stroke-width="0.5" stroke-linejoin="round" />
</g>
<path d="M721.3,673.8 H854.5999999999999 A40,40 0 0 1 894.5999999999999,713.8 V766.4 A40,40 0 0 1 854.5999999999999,806.4 H721.3 A40,40 0 0 1 681.3,766.4 V713.8 A40,40 0 0 1 721.3,673.8 Z" fill="none" stroke="#0b7b7d" stroke-width="3"/>

<text x="460.0" y="438.8" font-family="Liberation Sans" font-size="22" font-weight="normal" font-style="normal" fill="#0d0d0d" textLength="80.5" lengthAdjust="spacingAndGlyphs" stroke="#0d0d0d" stroke-width="0.8" stroke-linejoin="round">Europe</text>
<text x="985.9" y="513.0" font-family="Liberation Sans" font-size="20.3" font-weight="normal" font-style="normal" fill="#0d0d0d" textLength="126.2" lengthAdjust="spacingAndGlyphs" stroke="#0d0d0d" stroke-width="0.8" stroke-linejoin="round">Central Asia</text>
<text x="1064.7" y="698.2" font-family="Liberation Sans" font-size="21.3" font-weight="normal" font-style="normal" fill="#0d0d0d" textLength="46" lengthAdjust="spacingAndGlyphs" stroke="#0d0d0d" stroke-width="0.8" stroke-linejoin="round">Asia</text>
<text x="542.0" y="772.2" font-family="Liberation Sans" font-size="19.3" font-weight="normal" font-style="normal" fill="#0d0d0d" textLength="55" lengthAdjust="spacingAndGlyphs" stroke="#0d0d0d" stroke-width="0.8" stroke-linejoin="round">South</text>
<text x="530.5" y="799.6" font-family="Liberation Sans" font-size="19.3" font-weight="normal" font-style="normal" fill="#0d0d0d" textLength="77" lengthAdjust="spacingAndGlyphs" stroke="#0d0d0d" stroke-width="0.8" stroke-linejoin="round">America</text>
<text x="702.7" y="795.3" font-family="Liberation Sans" font-size="21.3" font-weight="normal" font-style="normal" fill="#0d0d0d" textLength="93.5" lengthAdjust="spacingAndGlyphs" stroke="#0d0d0d" stroke-width="0.8" stroke-linejoin="round">Australia</text>
<text x="924" y="830.9" font-family="Liberation Sans" font-size="15.3" font-weight="bold" font-style="italic" fill="#fff" textLength="223.5" lengthAdjust="spacingAndGlyphs" >Generations &amp; Gender Programme</text>
<rect x="860.6" y="854.8" width="301" height="1.7" fill="#a8d6d6"/>
<text x="865.3" y="841.2" font-family="Liberation Sans" font-size="23.5" font-weight="bold" fill="#fff" textLength="14.5" lengthAdjust="spacingAndGlyphs">G</text>
<text x="879.8" y="832.5" font-family="Liberation Sans" font-size="23.5" font-weight="bold" fill="#fff" textLength="14" lengthAdjust="spacingAndGlyphs">G</text>
<text x="894.4" y="826.8" font-family="Liberation Sans" font-size="23.5" font-weight="bold" fill="#fff" textLength="13" lengthAdjust="spacingAndGlyphs">P</text>
<path d="M868.5,846.8 C893,846.8 911.5,833 916,807.5 C912,830 894,843.5 868.5,846.8 Z" fill="#fff"/>
</svg>
</body></html>
